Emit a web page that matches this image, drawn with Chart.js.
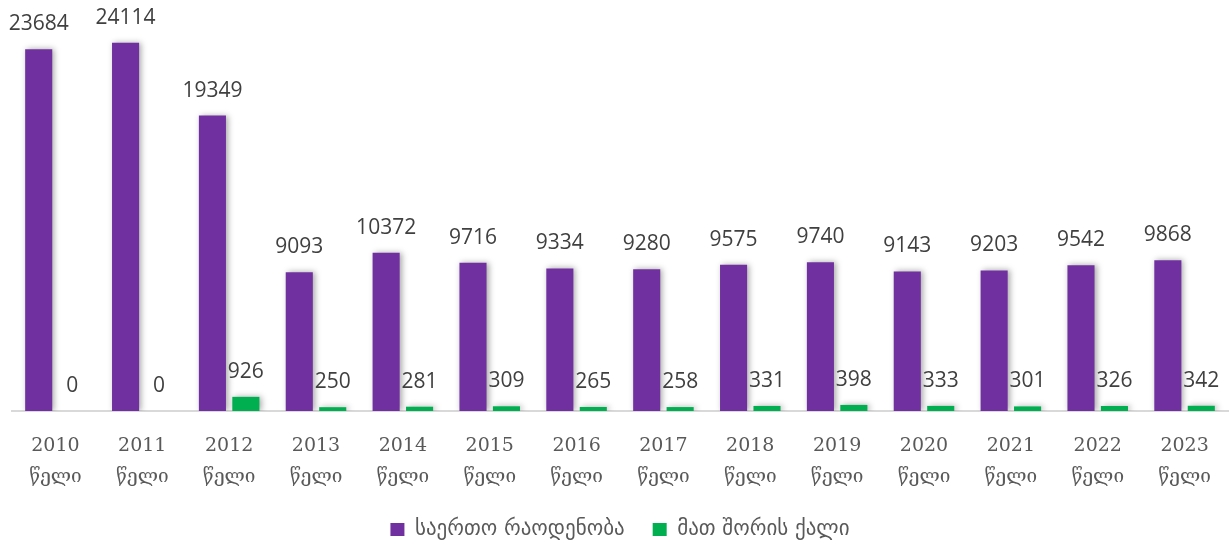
<!DOCTYPE html>
<html>
<head>
<meta charset="utf-8">
<script src="https://cdn.jsdelivr.net/npm/chart.js@4.4.1/dist/chart.umd.min.js"></script>
<style>
  html, body { margin: 0; padding: 0; background: #fff; }
  #wrap { width: 1231px; height: 550px; position: relative; }
</style>
</head>
<body>
<div id="wrap"><canvas id="chart"></canvas></div>
<script>
const years = ['2010', '2011', '2012', '2013', '2014', '2015', '2016', '2017', '2018', '2019', '2020', '2021', '2022', '2023'];
const yearWord = 'წელი';
const totalCount = [23684, 24114, 19349, 9093, 10372, 9716, 9334, 9280, 9575, 9740, 9143, 9203, 9542, 9868];
const womenCount = [0, 0, 926, 250, 281, 309, 265, 258, 331, 398, 333, 301, 326, 342];
const seriesNames = ['საერთო რაოდენობა', 'მათ შორის ქალი'];

const labels = years.map(y => [y, yearWord]);

// soft grey glow behind the bars, like the office chart
const barShadow = {
  id: 'barShadow',
  beforeDatasetsDraw(chart) {
    const ctx = chart.ctx;
    ctx.save();
    ctx.shadowColor = 'rgba(0,0,0,0.35)';
    ctx.shadowBlur = 6;
    ctx.shadowOffsetX = 2;
    ctx.shadowOffsetY = 0;
  },
  afterDatasetsDraw(chart) {
    chart.ctx.restore();
  }
};

// value labels above each bar
const valueLabels = {
  id: 'valueLabels',
  afterDatasetsDraw(chart) {
    const ctx = chart.ctx;
    ctx.save();
    ctx.font = '21px "Open Sans"';
    ctx.fillStyle = '#404040';
    ctx.textAlign = 'center';
    ctx.textBaseline = 'middle';
    chart.data.datasets.forEach((ds, i) => {
      chart.getDatasetMeta(i).data.forEach((bar, j) => {
        ctx.fillText(String(ds.data[j]), bar.x, bar.y - 25);
      });
    });
    ctx.restore();
  }
};

const ctx = document.getElementById('chart').getContext('2d');
new Chart(ctx, {
  type: 'bar',
  data: {
    labels: labels,
    datasets: [{
      label: seriesNames[0],
      data: totalCount,
      backgroundColor: '#7030a0'
    }, {
      label: seriesNames[1],
      data: womenCount,
      backgroundColor: '#00b050'
    }]
  },
  options: {
    responsive: true,
    maintainAspectRatio: false,
    animation: false,
    categoryPercentage: 0.77,
    barPercentage: 0.81,
    layout: { padding: { left: 12, right: 3, top: 14, bottom: 0 } },
    plugins: {
      tooltip: { enabled: false },
      legend: {
        position: 'bottom',
        labels: {
          boxWidth: 14,
          boxHeight: 13,
          padding: 28,
          color: '#595959',
          font: { family: '"DejaVu Sans"', size: 21 }
        }
      }
    },
    scales: {
      x: {
        grid: { display: false, drawTicks: false },
        border: { display: true, color: '#d9d9d9', width: 2 },
        ticks: {
          padding: 20,
          color: '#595959',
          font: { family: '"DejaVu Serif"', size: 19, lineHeight: 1.6 },
          maxRotation: 0,
          autoSkip: false
        },
        afterFit(scale) { scale.height = 80; }
      },
      y: {
        display: false,
        min: 0,
        max: 26000
      }
    }
  },
  plugins: [barShadow, valueLabels]
});
</script>
</body>
</html>
